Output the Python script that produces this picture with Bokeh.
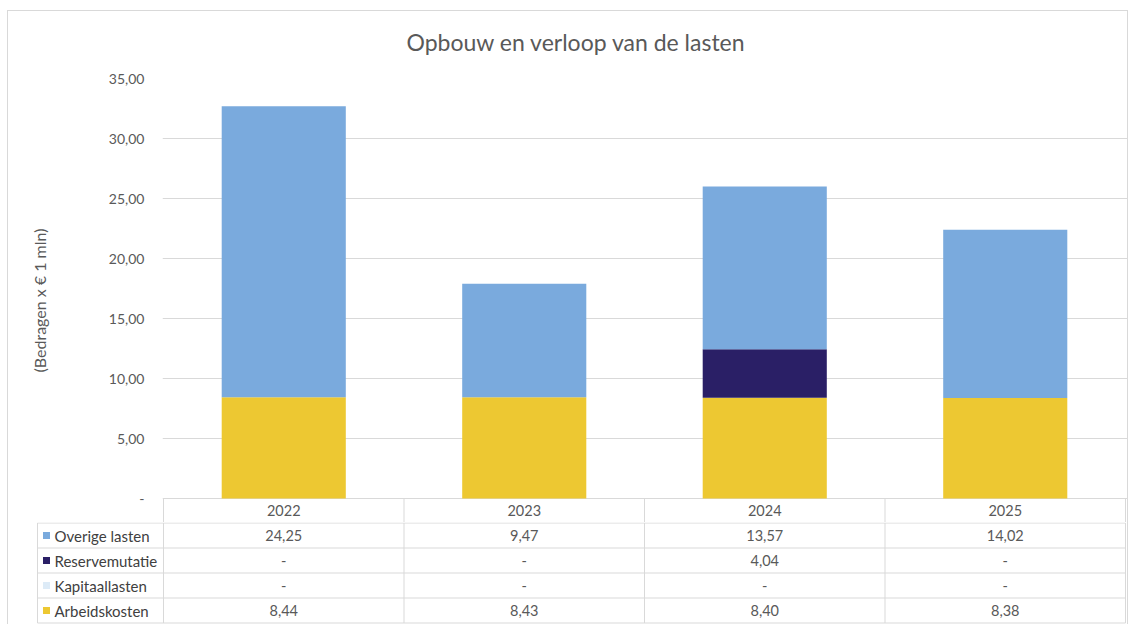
from bokeh.plotting import figure
from bokeh.models import Range1d, FixedTicker, CustomJSTickFormatter, ColumnDataSource
from bokeh.embed import file_html
from bokeh.resources import INLINE
from bokeh.core.properties import value

# ---------------- data ----------------
years = ["2022", "2023", "2024", "2025"]
series = ["Arbeidskosten", "Kapitaallasten", "Reservemutatie", "Overige lasten"]  # bottom -> top
arbeidskosten = [8.44, 8.43, 8.40, 8.38]
kapitaallasten = [0.0, 0.0, 0.0, 0.0]
reservemutatie = [0.0, 0.0, 4.04, 0.0]
overige_lasten = [24.25, 9.47, 13.57, 14.02]
series_colors = ["#EDC832", "#DDEBF7", "#2A1F66", "#7AAADD"]
y_ticks = [0, 5, 10, 15, 20, 25, 30, 35]
title_text = "Opbouw en verloop van de lasten"
y_title = "(Bedragen x \u20ac 1 mln)"

values = {
    "Arbeidskosten": arbeidskosten,
    "Kapitaallasten": kapitaallasten,
    "Reservemutatie": reservemutatie,
    "Overige lasten": overige_lasten,
}
color_of = dict(zip(series, series_colors))

FONT = "Lato"
TXT = "#595959"
GRID = "#d9d9d9"

# ---------------- layout constants (page px) ----------------
CX0, CX1 = 7, 1128           # content x extent [CX0, CX1)
CY0 = 0                      # content top
W = CX1 - CX0
COL0, COLN = 163, 1125       # x of first / last column line
A_TOP, A_ZERO = 78, 498      # y of 35-gridline and 0-gridline
PX_PER_UNIT = (A_ZERO - A_TOP) / 35.0
HDR_H = 24
ROW_PX = 25
LEG_L = 37
BORDER_TOP = 10

ncol = len(years)
upx = (COLN - COL0) / ncol
x_pos = [i + 0.5 for i in range(ncol)]

G = "linear-gradient(#d9d9d9, #d9d9d9)"
frame_box_a = {
    "margin-left": f"{CX0}px",
    "background-image": f"{G}, {G}, {G}",
    "background-size": "100% 1px, 1px 100%, 1px 100%",
    "background-position": f"0 {BORDER_TOP}px, 0 {BORDER_TOP}px, 100% {BORDER_TOP}px",
    "background-repeat": "no-repeat",
}
frame_box_b = {
    "margin-left": f"{CX0}px",
    "background-image": f"{G}, {G}",
    "background-size": "1px 100%, 1px 100%",
    "background-position": "0 0, 100% 0",
    "background-repeat": "no-repeat",
}

# ---------------- chart (with header row of the table) ----------------
A_FRAME_L = COL0 - 1
A_BOT = A_ZERO + HDR_H
hdr_units = HDR_H / PX_PER_UNIT
ax0 = -(COL0 - A_FRAME_L) / upx
ax1 = ax0 + (CX1 - A_FRAME_L) / upx

pA = figure(width=W, height=A_BOT - CY0,
            x_range=Range1d(ax0, ax1), y_range=Range1d(-hdr_units, 35),
            x_axis_location=None, output_backend="svg", toolbar_location=None,
            min_border_left=A_FRAME_L - CX0, min_border_right=0,
            min_border_top=A_TOP - CY0, min_border_bottom=0,
            title=title_text, styles=frame_box_a)
pA.outline_line_color = None
pA.background_fill_color = None
pA.border_fill_color = None

src = ColumnDataSource(dict(x=x_pos, **values))
pA.vbar_stack(series, x="x", width=0.516, color=series_colors, source=src, line_width=0)

pA.xgrid.visible = False
pA.yaxis.ticker = FixedTicker(ticks=y_ticks)
pA.ygrid.grid_line_color = GRID
pA.yaxis.formatter = CustomJSTickFormatter(
    code="return tick == 0 ? '-' : tick.toFixed(2).replace('.', ',');")
pA.yaxis.axis_line_color = None
pA.yaxis.major_tick_line_color = None
pA.yaxis.minor_tick_line_color = None
pA.yaxis.major_tick_out = 0
pA.yaxis.major_label_standoff = 18
pA.yaxis.major_label_text_font = FONT
pA.yaxis.major_label_text_font_size = "14px"
pA.yaxis.major_label_text_color = TXT
pA.yaxis.axis_label = y_title
pA.yaxis.axis_label_text_font = FONT
pA.yaxis.axis_label_text_font_style = "normal"
pA.yaxis.axis_label_text_font_size = "16px"
pA.yaxis.axis_label_text_color = TXT
pA.yaxis.axis_label_standoff = 57

pA.title.align = "left"
pA.title.offset = 244
pA.title.standoff = 46
pA.title.text_font = FONT
pA.title.text_font_size = "23px"
pA.title.text_font_style = "normal"
pA.title.text_color = TXT

# header row: vertical separators + year labels
pA.segment(x0=list(range(ncol + 1)), y0=[-hdr_units] * (ncol + 1),
           x1=list(range(ncol + 1)), y1=[0] * (ncol + 1), line_color=GRID, line_width=1)
pA.text(x=x_pos, y=[-hdr_units / 2] * ncol, text=years, text_align="center",
        text_baseline="middle", text_font=value(FONT), text_font_size="14.5px", text_color=TXT)

# ---------------- data table body ----------------
B_FRAME_L = LEG_L - 1
nrows = len(series)
B_H = nrows * ROW_PX + 2
bx0 = -(COL0 - B_FRAME_L) / upx
bx1 = bx0 + (CX1 - B_FRAME_L) / upx
leg_left = bx0 + (LEG_L - B_FRAME_L) / upx
by1 = nrows + 0.5 / ROW_PX
by0 = by1 - B_H / ROW_PX

pB = figure(width=W, height=B_H, x_range=Range1d(bx0, bx1), y_range=Range1d(by0, by1),
            x_axis_location=None, y_axis_location=None,
            output_backend="svg", toolbar_location=None,
            min_border_left=B_FRAME_L - CX0, min_border_right=0,
            min_border_top=0, min_border_bottom=0, styles=frame_box_b)
pB.outline_line_color = None
pB.grid.visible = False
pB.background_fill_color = None
pB.border_fill_color = None

hy = list(range(nrows + 1))
pB.segment(x0=[leg_left] * len(hy), y0=hy, x1=[ncol] * len(hy), y1=hy,
           line_color=GRID, line_width=1)
vx = list(range(ncol + 1)) + [leg_left]
pB.segment(x0=vx, y0=[0] * len(vx), x1=vx, y1=[nrows] * len(vx),
           line_color=GRID, line_width=1)

def fmt(v):
    return "-" if v == 0 else f"{v:.2f}".replace(".", ",")

rows_top_down = list(reversed(series))
cx, cy, ct = [], [], []
ly, lt, lc = [], [], []
for i, s in enumerate(rows_top_down):
    yc = nrows - 0.5 - i
    for j in range(ncol):
        cx.append(x_pos[j]); cy.append(yc); ct.append(fmt(values[s][j]))
    ly.append(yc); lt.append(s); lc.append(color_of[s])

pB.text(x=cx, y=cy, text=ct, text_align="center", text_baseline="middle",
        text_font=value(FONT), text_font_size="14.5px", text_color=TXT)
pB.rect(x=[leg_left + 9 / upx] * nrows, y=ly, width=7, height=7, width_units="screen",
        height_units="screen", fill_color=lc, line_color=None)
pB.text(x=[leg_left + 17 / upx] * nrows, y=ly, text=lt, text_align="left",
        text_baseline="middle", text_font=value(FONT), text_font_size="15px",
        text_color="#404040")

open("out.html", "w").write(file_html([pA, pB], INLINE))
